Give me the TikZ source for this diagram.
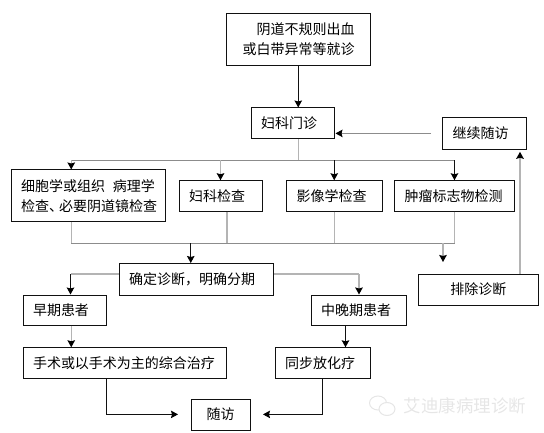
\documentclass[tikz,border=0pt]{standalone}
\usepackage{fontspec}
\setmainfont{Noto Sans CJK SC}
\usepackage{xcolor}
\definecolor{BoxLine}{HTML}{111111}
\definecolor{SoftLine}{HTML}{B4B4B4}
\definecolor{BusLine}{HTML}{8C8C8C}
\definecolor{WaterMark}{HTML}{E6E6E6}
\usetikzlibrary{arrows.meta, positioning, calc}
\tikzstyle{block} = [rectangle, draw=BoxLine, fill=white, text=black, minimum height=30.5pt, inner xsep=10.1pt, inner ysep=0pt, align=left, line width=0.8pt, font=\fontsize{14}{20}\selectfont]
\tikzstyle{arrow} = [line width=0.9pt, color=BoxLine, -{Stealth[length=7pt,width=7.5pt,inset=1pt,color=black]}]
\tikzstyle{softarrow} = [line width=1.5pt, color=SoftLine, -{Stealth[length=7pt,width=7.5pt,inset=1pt,color=black]}]
\tikzstyle{softline} = [line width=1.5pt, color=SoftLine]
\tikzstyle{bus} = [line width=1pt, color=BusLine]

\begin{document}
\begin{tikzpicture}[x=1pt, y=-1pt]
    \useasboundingbox (0,0) rectangle (544,433);

    % --- entry ---
    \node [block, anchor=north west, minimum height=51.5pt, inner xsep=15.6pt, text width=112.5pt, align=right] (visit) at (226,13.5) {阴道不规则出血\\或白带异常等就诊};
    \node [block, anchor=north west, text width=63pt] (clinic) at (250.5,107.5) {妇科门诊};
    \node [block, anchor=north west, minimum height=32pt, text width=63.5pt] (followup) at (442,117) {继续随访};

    % --- examinations ---
    \node [block, anchor=north west, minimum height=52pt, text width=134.5pt] (cyto) at (10.5,169.5) {细胞学或组织\hspace{8pt}病理学\\检查、\kern-4pt 必要阴道镜检查};
    \node [block, right=12.5pt of cyto, text width=63pt] (gyn) {妇科检查};
    \node [block, right=23.5pt of gyn, text width=75.5pt] (imaging) {影像学检查};
    \node [block, right=11.5pt of imaging, text width=100pt] (tumor) {肿瘤标志物检测};

    % --- diagnosis ---
    \node [block, anchor=north west, minimum height=31.5pt, text width=134.5pt] (stage) at (118.5,263) {确定诊断，明确分期};
    \node [block, anchor=north west, minimum height=31.5pt, align=center, text width=99.5pt] (exclude) at (418,273.5) {排除诊断};
    \node [block, anchor=north west, text width=63pt] (early) at (22.5,294.5) {早期患者};
    \node [block, anchor=north west, text width=75pt] (late) at (310.5,294.5) {中晚期患者};

    % --- treatment ---
    \node [block, below=21.5pt of early.south west, anchor=north west, text width=183pt] (surgery) {手术或以手术为主的综合治疗};
    \node [block, below=21.5pt of late.south west, anchor=north west, xshift=-36pt, text width=75pt] (chemo) {同步放化疗};
    \node [block, anchor=north west, minimum height=31pt, align=center, text width=39pt] (review) at (190.5,398.5) {随访};

    % Junctions
    \coordinate (upperbus) at ($(clinic.south)+(6,21.5)$);
    \coordinate (lowerbus) at ($(cyto.south)+(-17,21)$);
    \coordinate (gynrise) at ($(gyn.south)+(6.5,0)$);
    \coordinate (stagedrop) at ($(stage.north)+(-5.5,0)$);
    \coordinate (excludeend) at (443,262);
    \coordinate (earlyturn) at ($(stage.west)+(-48,-5)$);
    \coordinate (lateturn) at ($(stage.west)+(240.5,-5)$);
    \coordinate (stageright) at ($(stage.east)+(0,-5)$);
    \coordinate (latedrop) at ($(late.south)+(-13,0)$);
    \coordinate (excluderise) at ($(exclude.north)+(41.75,0)$);

    % Connect clinic to examinations
    \draw [arrow] (visit.south) -- (visit.south |- clinic.north);
    \draw [softline] (upperbus |- clinic.south) -- (upperbus);
    \draw [bus] (upperbus -| tumor.north) -- (upperbus -| lowerbus);
    \draw [softarrow] (upperbus -| lowerbus) -- (lowerbus |- cyto.north);
    \draw [softarrow] (upperbus -| gyn.north) -- (gyn.north);
    \draw [arrow] (upperbus -| imaging.north) -- (imaging.north);
    \draw [arrow] (upperbus -| tumor.north) -- (tumor.north);

    % Connect examinations to diagnosis
    \draw [softline] (lowerbus |- cyto.south) -- (lowerbus);
    \draw [softline] (gynrise) -- (gynrise |- lowerbus);
    \draw [softline] (imaging.south) -- (imaging.south |- lowerbus);
    \draw [softline] (tumor.south) -- (tumor.south |- lowerbus);
    \draw [bus] (lowerbus) -- (lowerbus -| tumor.south);
    \draw [arrow] (stagedrop |- lowerbus) -- (stagedrop);
    \draw [softarrow] (excludeend |- lowerbus) -- (excludeend);

    % Staging
    \draw [softline] (stage.west |- earlyturn) -- (earlyturn);
    \draw [arrow] (earlyturn) -- (earlyturn |- early.north);
    \draw [softline] (stageright) -- (lateturn);
    \draw [softarrow] (lateturn) -- (lateturn |- late.north);
    \draw [softarrow] (lowerbus |- early.south) -- (lowerbus |- surgery.north);
    \draw [arrow] (latedrop) -- (latedrop |- chemo.north);

    % Follow-up
    \draw [arrow, shorten >=12.5pt] (surgery.south -| early.east) |- (review.west);
    \draw [arrow, shorten >=12.5pt] (chemo.south) |- (review.east);
    \draw [softarrow, shorten >=2pt] (excluderise) -- (excluderise |- followup.south);
    \draw [softarrow, shorten <=11pt, shorten >=1pt, line width=1pt, color=BusLine] (followup.west) -- (clinic.east |- followup.west);

    % Watermark
    \node [text=WaterMark, font=\fontsize{17.5}{20}\selectfont, anchor=west] (mark) at (400,406) {艾迪康病理诊断};
    \draw [WaterMark, line width=1pt] (378,403) ellipse (8.5pt and 7pt);
    \draw [WaterMark, line width=1pt, fill=white] (387,409) ellipse (8pt and 6.5pt);
\end{tikzpicture}
\end{document}
